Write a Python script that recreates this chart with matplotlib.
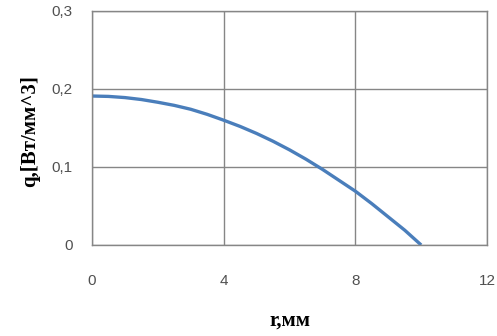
import matplotlib
matplotlib.use("Agg")
import matplotlib.pyplot as plt

r_mm = [0, 0.5, 1, 1.5, 2, 2.5, 3, 3.5, 4, 4.5, 5, 5.5, 6, 6.5, 7, 7.5, 8, 8.5, 9, 9.5, 10]
q_vals = [0.191, 0.1905, 0.189, 0.1865, 0.183, 0.179, 0.174, 0.1675, 0.160, 0.152,
          0.143, 0.133, 0.122, 0.110, 0.097, 0.083, 0.069, 0.053, 0.036, 0.019, 0.0]
x_ticks = [0, 4, 8, 12]
y_ticks = [0, 0.1, 0.2, 0.3]
y_tick_labels = ["0", "0,1", "0,2", "0,3"]
x_label = "r,мм"
y_label = "q,[Вт/мм^3]"

fig = plt.figure(figsize=(4.97, 3.36), dpi=100)
ax = fig.add_axes([92/497, 1 - 245/336, (487-92)/497, (245-11)/336])
ax.plot(r_mm, q_vals, color="#4a7ebb", linewidth=2.4, solid_capstyle="butt")
ax.set_xlim(0, 12)
ax.set_ylim(0, 0.3)
ax.set_xticks(x_ticks)
ax.set_xticklabels([str(v) for v in x_ticks])
ax.set_yticks(y_ticks)
ax.set_yticklabels(y_tick_labels)
ax.grid(True, color="#868686", linewidth=1.0)
ax.set_axisbelow(True)
for s in ax.spines.values():
    s.set_color("#868686")
    s.set_linewidth(1.0)
ax.tick_params(length=0, labelsize=11, labelcolor="#505050")
ax.tick_params(axis="x", pad=21)
ax.tick_params(axis="y", pad=14)
for lab in ax.get_xticklabels() + ax.get_yticklabels():
    lab.set_family("Liberation Sans")
fig.text(290/497, 1 - 321/336, x_label, ha="center", va="center",
         family="Liberation Serif", fontweight="bold", fontsize=15)
fig.text(30/497, 1 - 131/336, y_label, ha="center", va="center", rotation=90,
         family="Liberation Serif", fontweight="bold", fontsize=15)
fig.savefig("out.png", dpi=100)
